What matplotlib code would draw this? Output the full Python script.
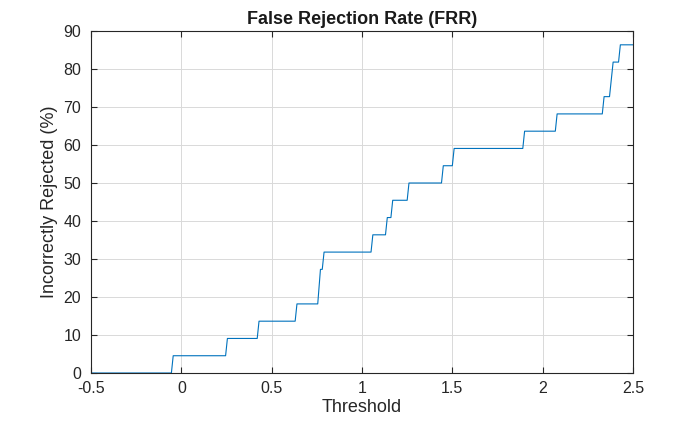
import numpy as np
import matplotlib
matplotlib.use("Agg")
import matplotlib.pyplot as plt

# corners of the FRR staircase
thr = [-0.5, -0.055, -0.045, 0.245, 0.255, 0.42, 0.43, 0.63, 0.64,
       0.755, 0.77, 0.78, 0.79, 1.05, 1.06, 1.13, 1.14, 1.16, 1.17,
       1.25, 1.26, 1.44, 1.45, 1.50, 1.51, 1.89, 1.90, 2.07, 2.08,
       2.33, 2.34, 2.37, 2.39, 2.42, 2.43, 2.5]
frr = [0, 0, 4.545, 4.545, 9.091, 9.091, 13.636, 13.636, 18.182,
       18.182, 27.273, 27.273, 31.818, 31.818, 36.364, 36.364, 40.909, 40.909, 45.455,
       45.455, 50.0, 50.0, 54.545, 54.545, 59.091, 59.091, 63.636, 63.636, 68.182,
       68.182, 72.727, 72.727, 81.818, 81.818, 86.364, 86.364]

xticks = [-0.5, 0, 0.5, 1, 1.5, 2, 2.5]
xticklabels = ["-0.5", "0", "0.5", "1", "1.5", "2", "2.5"]
yticks = list(range(0, 91, 10))

plt.rcParams['font.family'] = ['Liberation Sans', 'DejaVu Sans']

fig = plt.figure(figsize=(7, 4.22), dpi=100)
ax = fig.add_axes([91/700, 1 - 373/422, (633-91)/700, (373-31)/422])

ax.plot(thr, frr, color='#0072BD', lw=0.8)

ax.set_xlim(-0.5, 2.5)
ax.set_ylim(0, 90)
ax.set_xticks(xticks)
ax.set_xticklabels(xticklabels)
ax.set_yticks(yticks)
ax.grid(True, color='#d9d9d9', lw=0.7)
ax.set_axisbelow(True)
for s in ax.spines.values():
    s.set_color('#262626')
    s.set_linewidth(0.8)
ax.tick_params(direction='in', length=4, width=0.8, colors='#262626',
               labelsize=11.5, top=True, right=True)
ax.tick_params(axis='x', pad=6)
ax.tick_params(axis='y', pad=7)

ax.set_title("False Rejection Rate (FRR)", fontsize=13, fontweight='bold',
             color='#1a1a1a', pad=5)
ax.set_xlabel("Threshold", fontsize=13, color='#262626', labelpad=2)
ax.set_ylabel("Incorrectly Rejected (%)", fontsize=13, color='#262626', labelpad=4)

fig.savefig("out.png", dpi=100)
